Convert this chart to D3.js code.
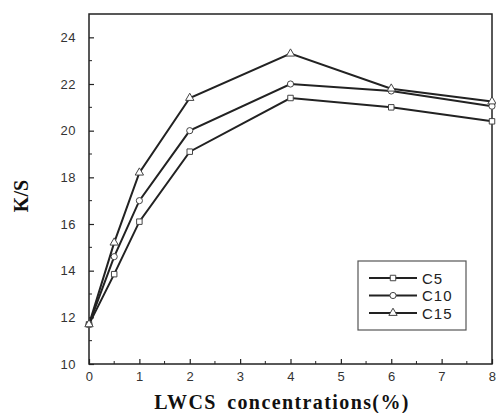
<!DOCTYPE html>
<html>
<head>
<meta charset="UTF-8">
<script src="https://d3js.org/d3.v7.min.js"></script>
<style>
    body { margin: 0; background: #fff; }
    .tick text { font-family: Arial, "Liberation Sans", sans-serif; font-size: 13px; fill: #333; letter-spacing: 0.5px; }
    .title { font-family: "Liberation Serif", "Times New Roman", serif; font-weight: bold; fill: #111; }
</style>
</head>
<body>
<div id="chart"></div>
<script>
// data
const xValues = [0, 0.5, 1, 2, 4, 6, 8];
const c5  = [11.7, 13.85, 16.1, 19.1, 21.4, 21.0, 20.4];
const c10 = [11.7, 14.6, 17.0, 20.0, 22.0, 21.7, 21.05];
const c15 = [11.7, 15.2, 18.2, 21.4, 23.3, 21.8, 21.25];
const seriesNames = ["C5", "C10", "C15"];
const xTicks = [0, 1, 2, 3, 4, 5, 6, 7, 8];
const yTicks = [10, 12, 14, 16, 18, 20, 22, 24];

const width = 496, height = 413;
const margin = {left: 89, top: 14, right: 4, bottom: 49};

const svg = d3.select("#chart").append("svg")
    .attr("width", width).attr("height", height);

const x = d3.scaleLinear().domain([0, 8]).range([margin.left, width - margin.right]);
const y = d3.scaleLinear().domain([10, 25]).range([height - margin.bottom, margin.top]);

const ink = "#222";

// frame
svg.append("rect")
    .attr("x", x(0)).attr("y", y(25))
    .attr("width", x(8) - x(0)).attr("height", y(10) - y(25))
    .attr("fill", "none").attr("stroke", ink).attr("stroke-width", 1.5);

// axes with inward ticks
const xAxis = svg.append("g")
    .attr("transform", `translate(0,${y(10)})`)
    .call(d3.axisBottom(x).tickValues(xTicks).tickFormat(d3.format("d")).tickSize(-5).tickPadding(8));
const yAxis = svg.append("g")
    .attr("transform", `translate(${x(0)},0)`)
    .call(d3.axisLeft(y).tickValues(yTicks).tickFormat(d3.format("d")).tickSize(-5).tickPadding(13));
[xAxis, yAxis].forEach(g => {
    g.select(".domain").remove();
    g.selectAll(".tick line").attr("stroke", ink).attr("stroke-width", 1.2);
});

// minor ticks
svg.append("g").selectAll("line")
    .data(d3.range(0.5, 8, 1))
    .join("line")
    .attr("x1", d => x(d)).attr("x2", d => x(d))
    .attr("y1", y(10)).attr("y2", y(10) - 3)
    .attr("stroke", ink);
svg.append("g").selectAll("line")
    .data(d3.range(11, 25, 2))
    .join("line")
    .attr("x1", x(0)).attr("x2", x(0) + 3)
    .attr("y1", d => y(d)).attr("y2", d => y(d))
    .attr("stroke", ink);

// series
const series = [
    {name: seriesNames[0], values: c5, symbol: d3.symbolSquare},
    {name: seriesNames[1], values: c10, symbol: d3.symbolCircle},
    {name: seriesNames[2], values: c15, symbol: d3.symbolTriangle}
];

const line = d3.line().x((d, i) => x(xValues[i])).y(d => y(d));

series.forEach(s => {
    svg.append("path")
        .datum(s.values)
        .attr("d", line)
        .attr("fill", "none")
        .attr("stroke", ink)
        .attr("stroke-width", 2);
    svg.append("g").selectAll("path")
        .data(s.values)
        .join("path")
        .attr("transform", (d, i) => `translate(${x(xValues[i])},${y(d)})`)
        .attr("d", d3.symbol().type(s.symbol).size(30))
        .attr("fill", "#fff")
        .attr("stroke", "#444")
        .attr("stroke-width", 1);
});

// legend
const legend = svg.append("g").attr("transform", "translate(358,261)");
legend.append("rect")
    .attr("width", 108).attr("height", 69)
    .attr("fill", "#fff").attr("stroke", "#555").attr("stroke-width", 1.2);
series.forEach((s, i) => {
    const ly = 17 + i * 17.5;
    legend.append("line")
        .attr("x1", 11).attr("x2", 59).attr("y1", ly).attr("y2", ly)
        .attr("stroke", ink).attr("stroke-width", 2);
    legend.append("path")
        .attr("transform", `translate(35,${ly})`)
        .attr("d", d3.symbol().type(s.symbol).size(30))
        .attr("fill", "#fff").attr("stroke", "#444");
    legend.append("text")
        .attr("x", 64).attr("y", ly + 5.5)
        .attr("font-family", "Arial, 'Liberation Sans', sans-serif")
        .attr("font-size", 15).attr("letter-spacing", 1).attr("fill", "#222")
        .text(s.name);
});

// axis titles
svg.append("text")
    .attr("class", "title")
    .attr("x", 282).attr("y", 409)
    .attr("text-anchor", "middle")
    .attr("font-size", 20)
    .attr("letter-spacing", 1.4)
    .attr("word-spacing", 4)
    .text("LWCS concentrations(%)");
svg.append("text")
    .attr("class", "title")
    .attr("transform", "translate(28,196) rotate(-90)")
    .attr("text-anchor", "middle")
    .attr("font-size", 20)
    .text("K/S");
</script>
</body>
</html>
